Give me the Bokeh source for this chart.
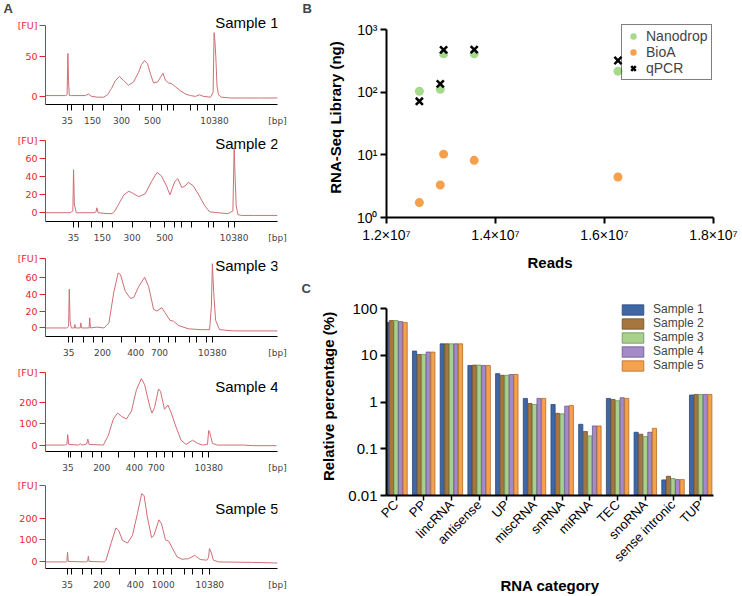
import math
from bokeh.plotting import figure
from bokeh.layouts import row, column
from bokeh.models import Range1d, FixedTicker, Label, Legend, LegendItem
from bokeh.embed import file_html
from bokeh.resources import INLINE

# ---------------- Panel A: electropherograms ----------------
ladder = ["35", "50", "100", "150", "200", "300", "400", "500", "700", "1000",
          "2000", "3000", "4000", "7000", "10380"]

s1_ticks = [21.7, 26, 38, 47, 58, 76, 94, 107, 116, 122, 128, 145, 152, 162, 169]
s2_ticks = [28.3, 33.3, 46.3, 57.3, 67.3, 87.3, 106.3, 120.3, 130.3, 137.3, 147.3, 164.3, 169.3, 184.3, 190.3]
s3_ticks = [23.5, 27.5, 38.5, 48.5, 57.5, 76.5, 91, 105, 115, 124, 131, 145, 152, 162, 168.3]
s4_ticks = [22.7, 25.7, 36.7, 47.7, 56.7, 73.7, 89.7, 102.7, 111.7, 119.7, 127.7, 140.7, 148.7, 158.7, 164.7]
s5_ticks = [22, 26, 37.7, 46.7, 56.7, 74.7, 90.7, 103.7, 112.7, 118.7, 126.7, 140.7, 148.7, 158.7, 165.7]

s1_shown = ["35", "150", "300", "500", "10380"]
s2_shown = ["35", "150", "300", "500", "10380"]
s3_shown = ["35", "200", "400", "700", "10380"]
s4_shown = ["35", "200", "400", "700", "10380"]
s5_shown = ["35", "200", "400", "1000", "10380"]

s1_t = [0, 20, 21.6, 22.4, 23.0, 23.8, 26, 40, 43, 46, 52, 58, 62, 66, 70, 74, 78, 83, 88, 93, 96, 99,
        102, 105, 108, 112, 115, 117.5, 120, 123, 126, 130, 135, 140, 145, 150, 154, 158, 165, 167.6,
        168.6, 169.4, 170.3, 171.5, 173, 176, 185, 200, 215, 232]
s1_fu = [1, 1, 2, 54, 20, 1, 1, 1, 3, 0, -1, -1, 2, 10, 20, 25, 20, 14, 18, 30, 40, 45,
         41, 28, 17, 18, 24, 29, 20, 17, 16, 12, 7, 3, 1, 0, 2, 0, -1, 5,
         80, 70, 50, 13, 2, -1, -2, -2, -2, -2]

s2_t = [0, 25, 27.6, 28.3, 29.1, 31, 49, 51, 51.8, 53, 62, 67, 70, 74, 79, 84, 87.5, 94, 100.5, 107,
        112.5, 117, 122, 125.5, 130.5, 133.5, 137.5, 141, 144, 149, 154, 160.5, 165.5, 174, 184, 189,
        190.3, 191.2, 192.3, 194, 197.5, 210, 234]
s2_fu = [0, 0, 2, 48, 10, 0, 0, 1, 5.5, 0, -1, -1, 2, 10, 20, 24, 22, 18, 21, 35,
         45, 41, 30, 20, 35, 38, 28, 30, 34, 30, 21, 8, 1, 0, -1, 2,
         72, 41, 8, -2, -3, -3, -3]

s3_t = [0, 21.5, 23.3, 24, 24.8, 26, 29, 29.6, 30.3, 35, 35.6, 36.3, 44, 44.6, 45.3, 52, 59, 64, 69,
        73.3, 75.6, 80.6, 85.6, 89, 94, 100, 104, 109, 112.3, 117.3, 120.6, 125.6, 129, 134, 144,
        157, 165.5, 167.3, 168.3, 169.6, 171.6, 175.6, 190, 234]
s3_fu = [0, 0, 2, 46, 8, 0, 0, 4, 0, 0, 6, 0, 0, 12, 0, 1, 0, 6, 43,
         65, 63, 43, 35, 36, 49, 60, 49, 22, 20, 24, 18, 9, 8, 3, -1,
         -2, -2, 25, 76, 43, 9, -2, -3.5, -3.5]

s4_t = [0, 20, 21.6, 22.4, 23.4, 33.4, 35, 36.7, 41.5, 42.7, 44, 58.4, 63.4, 68.4, 72.7, 76.7, 81.7,
        86.7, 91.7, 96.7, 100, 105, 107.4, 110, 114, 116, 120, 123.4, 126.7, 131.7, 136.7, 141.7,
        148.4, 153.4, 158.4, 163.4, 164.6, 165.4, 166.7, 168.4, 173.4, 200, 210, 233]
s4_fu = [0, 0, 5, 49, 3, 0, 6, 0, 5, 28, 3, 0, 46, 123, 151, 135, 123,
         161, 261, 314, 285, 185, 151, 177, 265, 254, 169, 189, 154, 85, 23, 3,
         23, 8, 0, 3, 69, 65, 40, 8, 0, 0, -3, -3]

s5_t = [0, 21, 21.6, 22.2, 23, 41, 42.5, 43.2, 44, 59.4, 61, 66, 71, 73.7, 77.7, 82.7, 87.7, 92.7,
        97, 99.4, 102.7, 107, 109.4, 114.4, 117, 121, 124.4, 127.7, 132.7, 137.7, 144.4, 150.4, 156,
        162.7, 164.4, 165.4, 167, 169.4, 174.4, 207.7, 234]
s5_fu = [0, 0, 3, 45, 2, 0, 3, 26, 2, 0, 8, 83, 155, 144, 98, 86, 121, 220,
         311, 303, 205, 111, 121, 192, 174, 101, 94, 65, 23, 12, 15, 30, 11,
         8, 20, 61, 45, 8, 0, -2, -5]

a_titles = ["Sample 1", "Sample 2", "Sample 3", "Sample 4", "Sample 5"]
a_title_y = [93, 77.6, 74.3, 276, 244]          # FU level of the sample caption
a_yaxis = [(-10.2, 89.3), (-9.8, 80.1), (-10.1, 82.4), (-30.4, 344), (-30, 349)]
a_yview = [99.1, 91.8, 95.1, 390, 385]            # top of the visible area (FU)
a_yticks = [[0, 50], [0, 20, 40, 60], [0, 20, 40, 60], [0, 100, 200], [0, 100, 200]]

# ---------------- Panel B ----------------
reads = [12.603e6, 12.987e6, 13.048e6, 13.609e6, 16.247e6]
nanodrop = [104, 112, 413, 413, 218]
bioa = [1.73, 3.31, 10.3, 8.2, 4.44]
qpcr = [72, 137, 478, 483, 323]
b_xticks = [1.2e7, 1.4e7, 1.6e7, 1.8e7]
b_xlabels = ["1.2×10⁷", "1.4×10⁷", "1.6×10⁷", "1.8×10⁷"]
b_yticks = [1, 10, 100, 1000]
b_ylabels = ["10⁰", "10¹", "10²", "10³"]

# ---------------- Panel C ----------------
categories = ["PC", "PP", "lincRNA", "antisense", "UP", "miscRNA", "snRNA", "miRNA",
              "TEC", "snoRNA", "sense intronic", "TUP"]
sample1 = [51, 12.4, 17.7, 6.1, 4.07, 1.2, 0.89, 0.335, 1.2, 0.226, 0.0216, 1.42]
sample2 = [55.6, 10.5, 17.7, 6.2, 3.75, 0.934, 0.574, 0.234, 1.14, 0.205, 0.0258, 1.46]
sample3 = [55.6, 10.5, 17.7, 6.2, 3.75, 0.89, 0.56, 0.189, 1.07, 0.183, 0.023, 1.46]
sample4 = [52.9, 11.8, 17.7, 6.1, 3.9, 1.2, 0.82, 0.309, 1.24, 0.226, 0.0219, 1.46]
sample5 = [51, 11.8, 17.7, 6.1, 3.9, 1.2, 0.85, 0.309, 1.2, 0.275, 0.0219, 1.46]
c_yticks = [0.01, 0.1, 1, 10, 100]
c_ylabels = ["0.01", "0.1", "1", "10", "100"]

FONT_A = "DejaVu Sans"
FONT = "Liberation Sans"
TRACE = "#cf6e76"
RED = "#e3262d"

# figure geometry (left column): height, border_top, border_left, border_bottom
a_geom = [(128, 17, 45, 22), (117, 2, 43, 22), (115, 2, 43, 22), (115, 2, 43, 22), (121, 2, 43, 28)]


def letter_title(p, letter, offset):
    p.title.text = letter
    p.title.align = "left"
    p.title.vertical_align = "top"
    p.title.offset = offset
    p.title.standoff = 0
    p.title.text_font = FONT
    p.title.text_font_style = "bold"
    p.title.text_font_size = "13px"


def make_a(idx, t, fu, ticks, shown):
    h, bt, bl, bb = a_geom[idx]
    xmax = 300 - bl - 23
    ylo, yhi = a_yaxis[idx]
    p = figure(width=300, height=h, output_backend="svg", toolbar_location=None,
               x_range=Range1d(0, xmax), y_range=Range1d(ylo, a_yview[idx]),
               min_border_left=bl, min_border_right=23, min_border_top=bt, min_border_bottom=bb)
    p.outline_line_color = None
    p.xgrid.visible = False
    p.ygrid.visible = False
    p.line(t, fu, line_color=TRACE, line_width=1)

    # every ladder band gets a (minor) tick mark; only some bands are labelled
    labelled = [tk for tk, lb in zip(ticks, ladder) if lb in shown] + [xmax]
    overrides = {tk: lb for tk, lb in zip(ticks, ladder) if lb in shown}
    overrides[xmax] = "[bp]"
    xa = p.xaxis[0]
    xa.ticker = FixedTicker(ticks=labelled, minor_ticks=ticks)
    xa.major_label_overrides = overrides
    xa.major_tick_line_color = None
    xa.major_tick_out = 6
    xa.major_tick_in = 0
    xa.minor_tick_line_color = "black"
    xa.minor_tick_out = 6
    xa.minor_tick_in = 0
    xa.axis_line_color = "black"
    xa.major_label_text_font = FONT_A
    xa.major_label_text_font_size = "9px"
    xa.major_label_standoff = 5

    ya = p.yaxis[0]
    ya.bounds = (ylo, yhi)
    ya.ticker = FixedTicker(ticks=a_yticks[idx] + [yhi], minor_ticks=[])
    ya.major_label_overrides = {yhi: "[FU]"}
    ya.axis_line_color = RED
    ya.major_tick_line_color = RED
    ya.major_label_text_color = RED
    ya.major_tick_out = 6
    ya.major_tick_in = 0
    ya.major_label_text_font = FONT_A
    ya.major_label_text_font_size = "9.5px"
    ya.major_label_standoff = 2

    p.add_layout(Label(x=xmax, y=a_title_y[idx], text=a_titles[idx],
                       text_align="right", text_baseline="middle", x_offset=1,
                       text_font=FONT, text_font_size="15px", text_color="black"))
    if idx == 0:
        letter_title(p, "A", -42)
    return p


a_figs = [
    make_a(0, s1_t, s1_fu, s1_ticks, s1_shown),
    make_a(1, s2_t, s2_fu, s2_ticks, s2_shown),
    make_a(2, s3_t, s3_fu, s3_ticks, s3_shown),
    make_a(3, s4_t, s4_fu, s4_ticks, s4_shown),
    make_a(4, s5_t, s5_fu, s5_ticks, s5_shown),
]


def style_prism_axis(ax, size="14px"):
    ax.axis_line_width = 2
    ax.axis_line_color = "black"
    ax.major_tick_line_width = 2
    ax.major_tick_line_color = "black"
    ax.major_tick_out = 6
    ax.major_tick_in = 0
    ax.minor_tick_line_color = None
    ax.major_label_text_font = FONT
    ax.major_label_text_font_size = size
    ax.major_label_text_color = "black"
    ax.axis_label_text_font = FONT
    ax.axis_label_text_font_style = "bold"
    ax.axis_label_text_font_size = "15px"
    ax.axis_label_text_color = "black"


# ---------------- Panel B figure ----------------
pb = figure(width=442, height=280, output_backend="svg", toolbar_location=None,
            x_range=Range1d(1.2e7, 1.8e7), y_range=Range1d(1, 1571), y_axis_type="log",
            min_border_left=86, min_border_right=28, min_border_top=17, min_border_bottom=63)
pb.outline_line_color = None
pb.xgrid.visible = False
pb.ygrid.visible = False
GREEN = "#a5d98b"
ORANGE = "#f7a04c"
r_nano = pb.scatter(reads, nanodrop, marker="circle", size=9, fill_color=GREEN, line_color=None)
r_bioa = pb.scatter(reads, bioa, marker="circle", size=9, fill_color=ORANGE, line_color=None)
r_qpcr = pb.scatter(reads, qpcr, marker="x", size=10, line_color="black", line_width=2.5)

xb = pb.xaxis[0]
style_prism_axis(xb, "14px")
xb.ticker = FixedTicker(ticks=b_xticks, minor_ticks=[])
xb.major_label_overrides = dict(zip(b_xticks, b_xlabels))
xb.major_label_standoff = 3
xb.axis_label = "Reads"
xb.axis_label_standoff = 8

yb = pb.yaxis[0]
style_prism_axis(yb, "14px")
yb.bounds = (1, 1000)
yb.ticker = FixedTicker(ticks=b_yticks, minor_ticks=[])
yb.major_label_overrides = dict(zip(b_yticks, b_ylabels))
yb.major_label_standoff = 3
yb.axis_label = "RNA-Seq Library (ng)"
yb.axis_label_standoff = 10

leg_b = Legend(items=[LegendItem(label="Nanodrop", renderers=[r_nano]),
                      LegendItem(label="BioA", renderers=[r_bioa]),
                      LegendItem(label="qPCR", renderers=[r_qpcr])],
               location=(235, 137), border_line_color="black", border_line_width=1.5,
               padding=3, spacing=0, margin=0, glyph_width=16, glyph_height=16, label_height=15,
               label_standoff=5, label_text_font=FONT, label_text_font_size="14px",
               background_fill_alpha=0)
pb.add_layout(leg_b)
letter_title(pb, "B", -84)

# ---------------- Panel C figure ----------------
pc = figure(width=442, height=316, output_backend="svg", toolbar_location=None,
            x_range=Range1d(-0.343, 11.462), y_range=Range1d(0.01, 173.9), y_axis_type="log",
            min_border_left=86, min_border_right=29, min_border_top=17, min_border_bottom=100)
pc.outline_line_color = None
pc.xgrid.visible = False
pc.ygrid.visible = False

c_series = [sample1, sample2, sample3, sample4, sample5]
c_fill = ["#3f67a5", "#a5773f", "#a9d18e", "#a48ac6", "#f4a24e"]
c_line = ["#2a4878", "#6e4f2a", "#6a8f55", "#6b5590", "#b86a25"]
c_offsets = [-0.33, -0.165, 0.0, 0.165, 0.33]
c_items = []
for j, vals in enumerate(c_series):
    xs = [i + c_offsets[j] for i in range(len(categories))]
    r = pc.vbar(x=xs, top=vals, bottom=0.01, width=0.15, fill_color=c_fill[j],
                line_color=c_line[j], line_width=0.8)
    c_items.append(LegendItem(label="Sample %d" % (j + 1), renderers=[r]))

xc = pc.xaxis[0]
style_prism_axis(xc, "13px")
xc.ticker = FixedTicker(ticks=list(range(len(categories))), minor_ticks=[])
xc.major_label_overrides = {i: c for i, c in enumerate(categories)}
xc.major_label_orientation = math.pi / 4
xc.major_tick_out = 5
xc.major_tick_line_width = 1.5
xc.major_label_standoff = 2
xc.axis_label = "RNA category"
xc.axis_label_standoff = 4

yc = pc.yaxis[0]
style_prism_axis(yc, "15px")
yc.bounds = (0.01, 100)
yc.ticker = FixedTicker(ticks=c_yticks, minor_ticks=[])
yc.major_label_overrides = dict(zip(c_yticks, c_ylabels))
yc.major_label_standoff = 3
yc.axis_label = "Relative percentage (%)"
yc.axis_label_standoff = 8

leg_c = Legend(items=c_items, location=(233, 123), border_line_color=None,
               padding=0, spacing=0, margin=0, glyph_width=27, glyph_height=13, label_height=13,
               label_standoff=7, label_text_font=FONT, label_text_font_size="12px",
               background_fill_alpha=0)
pc.add_layout(leg_c)
letter_title(pc, "C", -85)

layout = row(column(*a_figs, spacing=0), column(pb, pc, spacing=0), spacing=0)
open("out.html", "w").write(file_html(layout, INLINE))
